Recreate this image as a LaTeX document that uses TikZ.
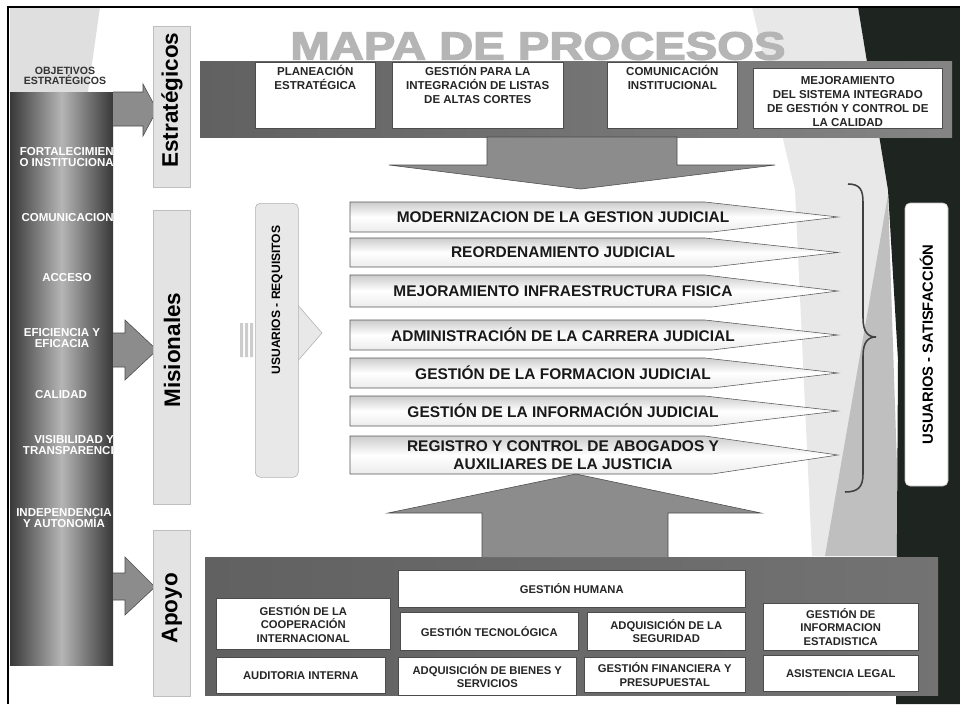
\documentclass[tikz,border=0pt]{standalone}
\usepackage{fontspec}
\setmainfont{Liberation Sans}
\newfontfamily\titlefont{Liberation Sans}[BoldFeatures={FakeBold=3}]
\usetikzlibrary{positioning}
\newcommand{\pxl}{0.25mm}
\definecolor{panelgray}{gray}{0.45}
\definecolor{arrowgray}{gray}{0.55}
\definecolor{darkbg}{RGB}{30,36,32}

\begin{document}
\begin{tikzpicture}[x=0.25mm, y=-0.25mm,
    box/.style = {draw=black!70, fill=white, inner sep=1pt, align=center,
      font=\bfseries\fontsize{8}{9.6}\selectfont, text=black!85},
    boxtxt/.style = {align=center, inner sep=0pt,
      font=\bfseries\fontsize{8.2}{10}\selectfont, text=black!85},
    bar/.style = {draw=gray!50, fill=gray!22, inner sep=0pt},
    bartxt/.style = {rotate=90, inner sep=0pt, font=\bfseries\fontsize{16}{16}\selectfont},
    lab/.style = {text=white, align=center, inner sep=0pt,
      font=\bfseries\fontsize{8.2}{8.4}\selectfont},
    proc/.style = {draw=black!65, top color=gray!40, bottom color=gray!15, middle color=white},
    proctxt/.style = {align=center, inner sep=0pt,
      font=\bfseries\fontsize{11}{13}\selectfont, text=black!90},
    blockarrow/.style = {draw=black!70, fill=arrowgray}]
\useasboundingbox (0,0) rectangle (960,704);

% fondo
\fill[white] (0,0) rectangle (960,704);
\fill[gray!25] (10,7) -- (100,7) -- (88,92) -- (10,92) -- cycle;
\fill[gray!18] (752,7) -- (858,7) -- (888,190) -- (898,556) -- (812,556) -- (795,190) -- cycle;
\fill[gray!50] (888,195) -- (900,556) -- (825,556) -- cycle;
\fill[darkbg] (858,7) -- (960,7) -- (960,704) -- (896,704) -- (898,360) -- (888,190) -- cycle;
\draw[black, line width=1.2pt] (8,704) -- (8,7) -- (960,7);

% titulo
\node[font=\titlefont\bfseries\fontsize{28}{28}\selectfont, text=gray!58, xscale=1.2] (title) at (538,46) {MAPA DE PROCESOS};

% objetivos
\shade[left color=black!78, right color=black!78, middle color=gray!58] (10,92) rectangle (113,665);
\node[align=center, inner sep=0pt, font=\bfseries\fontsize{7.5}{6.8}\selectfont, text=black!80] (obj) at (65,76) {OBJETIVOS\\ESTRATÉGICOS};
\node[lab, align=right, anchor=east] (fort) at (114,157) {FORTALECIMIEN\\O INSTITUCIONA};
\node[lab, anchor=east] (comu) at (114,218) {COMUNICACION};
\node[lab] (acce) at (67,278) {ACCESO};
\node[lab] (efic) at (62,338) {EFICIENCIA Y\\EFICACIA};
\node[lab] (cali) at (61,395) {CALIDAD};
\node[lab, align=right, anchor=east] (visi) at (114,445) {VISIBILIDAD Y\\TRANSPARENCI};
\node[lab] (inde) at (64,518) {INDEPENDENCIA\\Y AUTONOMÍA};

% flechas de entrada
\draw[blockarrow] (113,92) -- (143,92) -- (143,84) -- (157,110) -- (143,136) -- (143,126) -- (113,126);
\draw[blockarrow] (113,333) -- (125,333) -- (125,320) -- (157,350) -- (125,380) -- (125,367) -- (113,367);
\draw[blockarrow] (113,573) -- (125,573) -- (125,557) -- (155,587) -- (125,615) -- (125,600) -- (113,600);

% categorias
\node[bar, minimum width=37*\pxl, minimum height=161*\pxl, anchor=north west] (estr) at (153,26) {};
\node[bar, minimum width=37*\pxl, minimum height=294*\pxl, anchor=north west] (misi) at (153,210) {};
\node[bar, minimum width=37*\pxl, minimum height=166*\pxl, anchor=north west] (apoy) at (153,530) {};
\node[bartxt] (estrt) at (172,100) {Estratégicos};
\node[bartxt] (misit) at (172,350) {Misionales};
\node[bartxt] (apoyt) at (172,608) {Apoyo};

% procesos estrategicos
\shade[left color=black!62, right color=black!48] (200,61) rectangle (952,137);
\node[box, minimum width=120*\pxl, minimum height=66*\pxl, anchor=north west] (plan) at (255,62) {};
\node[box, minimum width=171*\pxl, minimum height=66*\pxl, anchor=north west] (inte) at (392,62) {};
\node[box, minimum width=130*\pxl, minimum height=66*\pxl, anchor=north west] (comi) at (607,62) {};
\node[box, minimum width=189*\pxl, minimum height=60*\pxl, anchor=north west] (mejo) at (753,68) {};
\node[boxtxt, below=3*\pxl of plan.north] (plant) {PLANEACIÓN\\ESTRATÉGICA};
\node[boxtxt, below=3*\pxl of inte.north] (intet) {GESTIÓN PARA LA\\INTEGRACIÓN DE LISTAS\\DE ALTAS CORTES};
\node[boxtxt, below=3*\pxl of comi.north] (comit) {COMUNICACIÓN\\INSTITUCIONAL};
\node[boxtxt, below=8*\pxl of mejo.north] (mejot) {MEJORAMIENTO\\DEL SISTEMA INTEGRADO\\DE GESTIÓN Y CONTROL DE\\LA CALIDAD};
\draw[blockarrow] (487,137) -- (677,137) -- (677,165) -- (775,165) -- (581,189) -- (389,165) -- (487,165) -- cycle;

% usuarios - requisitos
\fill[gray!40] (240,323) rectangle (243,357) (245,323) rectangle (248,357) (250,323) rectangle (253,357);
\draw[draw=gray!60, fill=gray!18] (296,303) -- (322,333) -- (296,363) -- cycle;
\node[draw=gray!60, fill=gray!18, rounded corners=5*\pxl, minimum width=43*\pxl, minimum height=274*\pxl, anchor=north west] (requ) at (255,203) {};
\node[rotate=90, inner sep=0pt, font=\bfseries\fontsize{8.6}{9}\selectfont] (requt) at (277,300) {USUARIOS - REQUISITOS};

% procesos misionales
\foreach \yt/\yb/\txt [count=\i] in {
    202/232/{MODERNIZACION DE LA GESTION JUDICIAL},
    238/267/{REORDENAMIENTO JUDICIAL},
    275/307/{MEJORAMIENTO INFRAESTRUCTURA FISICA},
    320/350/{ADMINISTRACIÓN DE LA CARRERA JUDICIAL},
    358/388/{GESTIÓN DE LA FORMACION JUDICIAL},
    396/426/{GESTIÓN DE LA INFORMACIÓN JUDICIAL},
    436/474/{REGISTRO Y CONTROL DE ABOGADOS Y\\AUXILIARES DE LA JUSTICIA}} {
  \path[proc] (350,\yt) -- (705,\yt) -- (838,{(\yt+\yb)/2}) -- (712,\yb) -- (350,\yb) -- cycle;
  \node[proctxt] (proc\i) at (563,{(\yt+\yb)/2}) {\txt};
}

% llave y satisfaccion
\draw[black!75, line width=1.1pt] (848,184) .. controls (860,184) and (863,190) .. (863,202) -- (863,318)
  .. controls (863,332) and (868,337) .. (876,337) .. controls (868,337) and (863,342) .. (863,356)
  -- (863,474) .. controls (863,487) and (858,492) .. (845,492);
\node[rotate=90, draw=gray!50, fill=white, rounded corners=5*\pxl, minimum width=283*\pxl, minimum height=43*\pxl,
  inner sep=0pt, font=\bfseries\fontsize{10.5}{11}\selectfont] (sati) at (926.5,344.5) {USUARIOS - SATISFACCIÓN};

% procesos de apoyo
\shade[left color=black!62, right color=black!55] (205,557) rectangle (938,695);
\draw[blockarrow] (482,557) -- (482,513) -- (388,513) -- (576,474) -- (761,513) -- (668,513) -- (668,557);
\node[box, minimum width=347*\pxl, minimum height=37*\pxl, anchor=north west] (huma) at (398,570) {GESTIÓN HUMANA};
\node[box, minimum width=174*\pxl, minimum height=51*\pxl, anchor=north west] (coop) at (216,598) {GESTIÓN DE LA\\COOPERACIÓN\\INTERNACIONAL};
\node[box, minimum width=169*\pxl, minimum height=36*\pxl, anchor=north west] (audi) at (216,657) {AUDITORIA INTERNA};
\node[box, minimum width=178*\pxl, minimum height=38*\pxl, anchor=north west] (tecn) at (400,612) {GESTIÓN TECNOLÓGICA};
\node[box, minimum width=178*\pxl, minimum height=38*\pxl, anchor=north west] (bien) at (398,657) {ADQUISICIÓN DE BIENES Y\\SERVICIOS};
\node[box, minimum width=158*\pxl, minimum height=38*\pxl, anchor=north west] (segu) at (587,612) {ADQUISICIÓN DE LA\\SEGURIDAD};
\node[box, minimum width=161*\pxl, minimum height=35*\pxl, anchor=north west] (fina) at (584,657) {GESTIÓN FINANCIERA Y\\PRESUPUESTAL};
\node[box, minimum width=155*\pxl, minimum height=47*\pxl, anchor=north west] (esta) at (763,603) {GESTIÓN DE\\INFORMACION\\ESTADISTICA};
\node[box, minimum width=155*\pxl, minimum height=36*\pxl, anchor=north west] (lega) at (763,655) {ASISTENCIA LEGAL};
\end{tikzpicture}
\end{document}
